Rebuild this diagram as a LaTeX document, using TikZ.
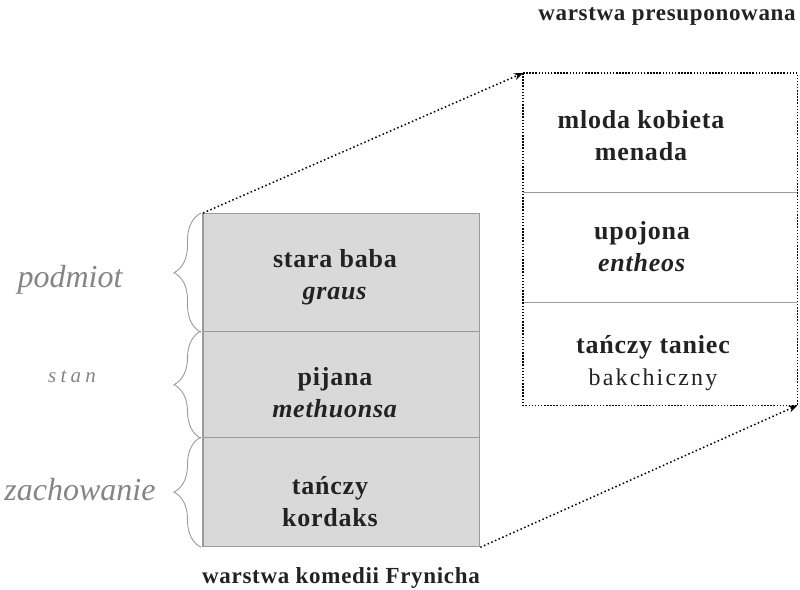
\documentclass[tikz,border=0pt]{standalone}
\usepackage{fontspec}
\setmainfont{Liberation Serif}
\newfontfamily\cellfont[LetterSpace=3]{Liberation Serif}
\newfontfamily\lightfont[LetterSpace=9]{Liberation Serif}
\newfontfamily\stanfont[LetterSpace=20]{Liberation Serif}
\usetikzlibrary{decorations.pathreplacing,arrows.meta}
\definecolor{cellgray}{HTML}{D9D9D9}
\definecolor{boxgray}{HTML}{9A9A9A}
\definecolor{labelgray}{HTML}{858585}
\definecolor{txt}{HTML}{222222}
\begin{document}
\begin{tikzpicture}[x=1pt,y=-1pt,
  cell/.style={draw=boxgray, line width=1.3pt, fill=cellgray, minimum width=276pt,
    anchor=north west, inner sep=0pt},
  rcell/.style={minimum width=274pt, anchor=north west, inner sep=0pt},
  celltext/.style={align=center, text=txt, inner sep=0pt,
    font=\fontsize{26}{32}\cellfont\bfseries},
  divider/.style={draw=boxgray, line width=1.3pt},
  dotbox/.style={draw=black, line width=1.5pt, dash pattern=on 1.5pt off 1.6pt},
  dotarrow/.style={draw=black, line width=1.5pt, dash pattern=on 1.5pt off 2.5pt,
    -{Stealth[length=9pt,width=7pt]}},
  bracestyle/.style={draw=boxgray, line width=0.9pt,
    decorate, decoration={brace, amplitude=27pt}},
  sidelabel/.style={text=labelgray, font=\fontsize{32}{34}\selectfont\itshape},
  caption/.style={text=txt, font=\fontsize{23}{24}\cellfont\bfseries}]
\useasboundingbox (0,0) rectangle (800,589);
% left stack
\node[cell, minimum height=118pt] (c1) at (203,213) {};
\node[cell, minimum height=106pt] (c2) at (203,331) {};
\node[cell, minimum height=109pt] (c3) at (203,437) {};
\draw[boxgray, line width=2.4pt] (c1.north west) -- (c3.south west);
\node[celltext] (t1) at (335,277) {stara baba\\\textit{graus}};
\node[celltext] (t2) at (335,393) {pijana\\\textit{methuonsa}};
\node[celltext] (t3) at (330,502) {tańczy\\kordaks};
% right stack
\node[rcell, minimum height=119pt] (r1) at (523,73) {};
\node[rcell, minimum height=110pt] (r2) at (523,192) {};
\node[rcell, minimum height=103pt] (r3) at (523,302) {};
\node[celltext] (u1) at (641,136) {mloda kobieta\\menada};
\node[celltext] (u2) at (642,247) {upojona\\\textit{entheos}};
\node[celltext] (u3) at (653,363) {tańczy taniec\\{\fontsize{24}{32}\lightfont\mdseries bakchiczny}};
\draw[divider] (r1.south west) -- (r1.south east);
\draw[divider] (r2.south west) -- (r2.south east);
\draw[dotbox] (r1.north west) rectangle (r3.south east);
% connectors
\draw[dotarrow] (c1.north west) -- (r1.north west);
\draw[dotarrow] (c3.south east) -- (r3.south east);
% braces
\draw[bracestyle] ([xshift=-2pt]c1.south west) -- ([xshift=-2pt]c1.north west);
\draw[bracestyle] ([xshift=-2pt]c2.south west) -- ([xshift=-2pt]c2.north west);
\draw[bracestyle] ([xshift=-2pt]c3.south west) -- ([xshift=-2pt]c3.north west);
% side labels
\node[sidelabel] (lp) at (70,280) {podmiot};
\node[sidelabel, font=\fontsize{21}{22}\stanfont\itshape] (ls) at (72,377) {stan};
\node[sidelabel] (lz) at (80,490) {zachowanie};
% captions
\node[caption] (top) at (667,16) {warstwa presuponowana};
\node[caption] (bot) at (341,578) {warstwa komedii Frynicha};
\end{tikzpicture}
\end{document}
